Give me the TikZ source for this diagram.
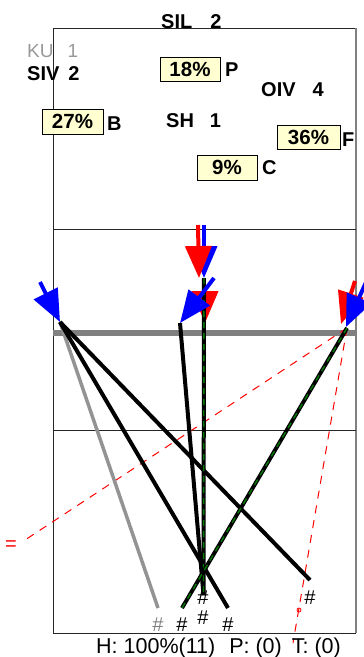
\documentclass[tikz,border=0pt]{standalone}
\usepackage{fontspec}
\setmainfont{Liberation Sans}
\usetikzlibrary{arrows.meta}
\definecolor{yellowbox}{HTML}{FFFFD2}
\definecolor{dgreen}{HTML}{007A00}
\begin{document}
\begin{tikzpicture}[x=1pt,y=-1pt,
  lbl/.style={font=\fontsize{20}{20}\selectfont\bfseries, inner sep=0pt, anchor=base west},
  kulbl/.style={font=\fontsize{19}{19}\selectfont, text=gray!80, inner sep=0pt, anchor=base west},
  pct/.style={draw=black, line width=0.8pt, fill=yellowbox, minimum width=60pt, minimum height=24pt, inner sep=0pt, font=\fontsize{20.5}{20}\selectfont\bfseries},
  heavy/.style={line width=4pt, black},
  grayheavy/.style={line width=3.5pt, gray!85},
  gdash/.style={draw=dgreen, line width=1.4pt, dash pattern=on 6pt off 5pt},
  harrow/.style={line width=4pt, -{Triangle[length=32pt,width=26pt]}},
  rdash/.style={red, line width=1pt, dash pattern=on 8pt off 7pt},
  hashmark/.style={font=\fontsize{20}{20}\selectfont, inner sep=0pt},
  frameline/.style={line width=1pt, black!85}
]
\useasboundingbox (0,0) rectangle (364,657);
% frame
\draw[frameline] (53,633) -- (53,28) -- (356,28);
\draw[frameline] (53,633) -- (356,633);
\draw[line width=1.8pt, gray] (356,28) -- (356,633);
\draw[frameline] (53,229.5) -- (356,229.5);
\draw[frameline] (53,430.5) -- (356,430.5);
\draw[line width=6pt, gray] (53,332.5) -- (356,332.5);

% labels
\node[lbl] (sil) at (161,28.3) {SIL\hspace{18pt}2};
\node[kulbl] (ku) at (27,57.3) {KU\hspace{14pt}1};
\node[lbl] (siv) at (27,80.7) {SIV\hspace{9pt}2};
\node[lbl] (oiv) at (261,96.7) {OIV\hspace{17pt}4};
\node[lbl] (sh) at (166,127) {SH\hspace{16pt}1};

\node[pct] (pP) at (190,69) {18\%};
\node[lbl] (lP) at (225,76) {P};
\node[pct, minimum width=61pt, minimum height=25pt] (pB) at (72.5,121.5) {27\%};
\node[lbl] (lB) at (107,130.7) {B};
\node[pct, minimum width=63pt] (pF) at (308.5,137) {36\%};
\node[lbl] (lF) at (342,146.7) {F};
\node[pct, minimum height=25pt] (pC) at (227,167.5) {9\%};
\node[lbl] (lC) at (262,174) {C};

% coordinates
\coordinate (L) at (60,322);
\coordinate (R) at (347,328);
\coordinate (Ctop) at (204,278);
\coordinate (Cbot) at (203.5,595);
\coordinate (M) at (180,323);
\coordinate (eGray) at (158,608);
\coordinate (eB1) at (228,608);
\coordinate (eB2) at (310,580);
\coordinate (eR) at (182,608);
\coordinate (rdL) at (22,542);
\coordinate (rdB) at (293,643);

% top blue arrow (under red)
\coordinate (tb0) at (204,225);
\coordinate (tr0) at (198,225);
\coordinate (tr1) at (199,278);
\draw[harrow, blue] (tb0) -- (Ctop);
\draw[harrow, red] (tr0) -- (tr1);
% middle red arrow
\coordinate (mr0) at (205,285);
\coordinate (mr1) at (205,323);
\draw[harrow, red] (mr0) -- (mr1);
% right red arrow
\coordinate (rr0) at (355,281);
\coordinate (rr1) at (341,324);
\draw[harrow, red] (rr0) -- (rr1);

% red dashed lines
\draw[rdash] (R) -- (rdL);
\draw[rdash] (R) -- (rdB);
\draw[red, line width=0.8pt] (299,610) circle (2pt);
\node[red, font=\fontsize{20}{20}\selectfont, inner sep=0pt] (eq) at (11,546) {=};

% heavy lines
\draw[grayheavy] (L) -- (eGray);
\draw[heavy] (L) -- (eB1);
\draw[heavy] (L) -- (eB2);
\draw[heavy] (M) -- (Cbot);
\draw[heavy] (Ctop) -- (Cbot);
\draw[gdash] (Ctop) -- (Cbot);
\draw[heavy] (R) -- (eR);
\draw[gdash] (R) -- (eR);

% blue arrows
\coordinate (lb0) at (40,282);
\draw[harrow, blue] (lb0) -- (L);
\coordinate (mb0) at (214,278);
\draw[harrow, blue] (mb0) -- (M);
\coordinate (rb0) at (367,280);
\coordinate (rb1) at (346,327);
\draw[harrow, blue] (rb0) -- (rb1);

% hash marks
\node[hashmark, text=gray] (h1) at (158,625) {\#};
\node[hashmark] (h2) at (182,625) {\#};
\node[hashmark] (h3) at (203,618) {\#};
\node[hashmark] (h4) at (228,625) {\#};
\node[hashmark] (h5) at (203,598) {\#};
\node[hashmark] (h6) at (310,598) {\#};

% bottom text
\node[font=\fontsize{21.5}{22}\selectfont, inner sep=0pt, anchor=base west] (status) at (96,653) {H: 100\%(11)\hspace{14pt}P: (0)\hspace{10pt}T: (0)};
\end{tikzpicture}
\end{document}
